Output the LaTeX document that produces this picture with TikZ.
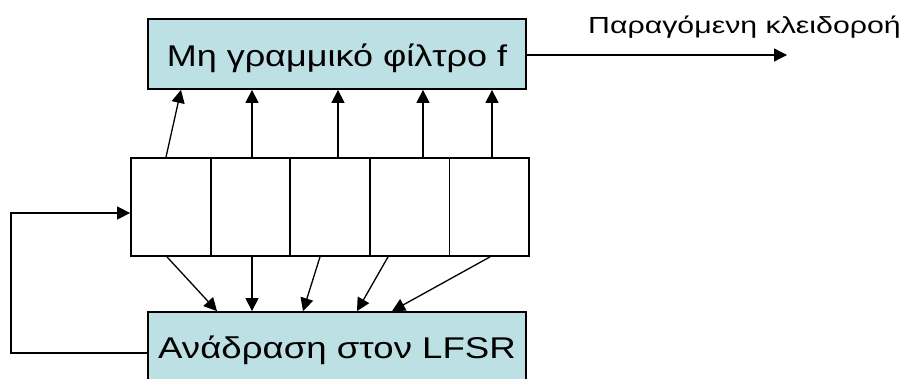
\documentclass[tikz,border=0pt]{standalone}
\usepackage{fontspec}
\setmainfont{Liberation Sans}
\newfontfamily\stretchA[FakeStretch=1.2]{Liberation Sans}
\newfontfamily\stretchB[FakeStretch=1.22]{Liberation Sans}
\newfontfamily\stretchC[FakeStretch=1.3]{Liberation Sans}
\usetikzlibrary{arrows.meta}
\definecolor{boxfill}{RGB}{188,224,228}
\begin{document}
\begin{tikzpicture}[x=1pt,y=-1pt,
  box/.style={draw,line width=1.8pt,fill=boxfill,inner sep=0pt,minimum width=378pt},
  cell/.style={draw,line width=1.8pt,minimum width=79.6pt,minimum height=98pt,inner sep=0pt},
  arr/.style={line width=1.3pt,-{Triangle[length=13pt,width=13pt]}},
  lbl/.style={font=\stretchC\fontsize{23.3}{25}\selectfont}]
\useasboundingbox (0,0) rectangle (901,379);
\clip (0,0) rectangle (901,379);
\node[box,minimum height=70pt,text height=26pt,text depth=0pt,font=\stretchA\fontsize{30}{32}\selectfont] (filt) at (337,54) {Μη γραμμικό φίλτρο f};
\node[box,minimum height=88pt,text height=18pt,text depth=13.4pt,font=\stretchB\fontsize{30}{32}\selectfont] (fb) at (337,356) {Ανάδραση στον LFSR};
\node[cell] (c1) at (170.8,207) {};
\node[cell] (c2) at (250.4,207) {};
\node[cell] (c3) at (330.0,207) {};
\node[cell] (c4) at (409.6,207) {};
\node[cell] (c5) at (489.2,207) {};
% to filter
\draw[arr] ([xshift=-4.8pt]c1.north) -- ([xshift=-156pt]filt.south);
\draw[arr] ([xshift=1.6pt]c2.north) -- ([xshift=-85pt]filt.south);
\draw[arr] ([xshift=8pt]c3.north) -- ([xshift=1pt]filt.south);
\draw[arr] ([xshift=13.4pt]c4.north) -- ([xshift=86pt]filt.south);
\draw[arr] ([xshift=2.8pt]c5.north) -- ([xshift=155pt]filt.south);
% to feedback
\draw[arr] ([xshift=-3.8pt]c1.south) -- ([xshift=-120pt]fb.north);
\draw[arr] ([xshift=1.6pt]c2.south) -- ([xshift=-85pt]fb.north);
\draw[arr] ([xshift=-10pt]c3.south) -- ([xshift=-34pt]fb.north);
\draw[arr] ([xshift=-21.6pt]c4.south) -- ([xshift=20pt]fb.north);
\draw[arr] ([xshift=0.8pt]c5.south) -- ([xshift=55pt]fb.north);
% feedback loop
\coordinate (lp) at (11,213);
\draw[arr] ([yshift=3pt]fb.west) -| (lp) -- ([yshift=-6pt]c1.west);
% output
\coordinate (out) at (787,55);
\draw[arr] ([yshift=-1pt]filt.east) -- (out);
\node[lbl,anchor=base west,inner sep=0pt] (outl) at (588,33.3) {Παραγόμενη κλειδοροή};
\end{tikzpicture}
\end{document}
